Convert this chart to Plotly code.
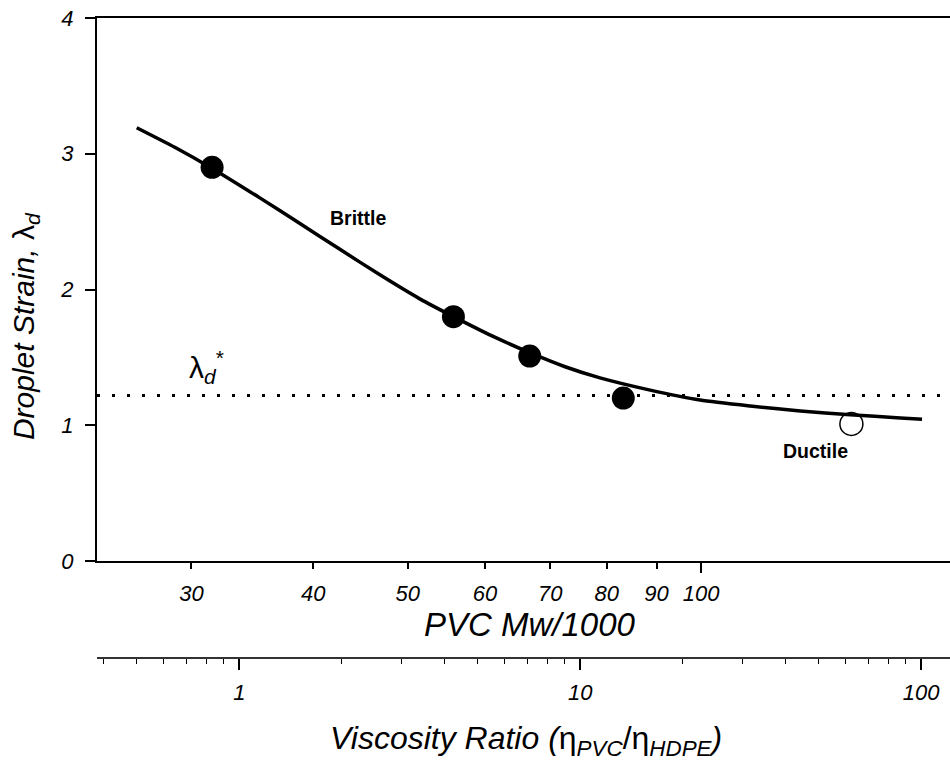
import numpy as np
import plotly.graph_objects as go

FONT = "Liberation Sans, Arial, sans-serif"

# Measured droplet strain for the brittle blends (filled) and the ductile blend (open)
mw_brittle = [31.5, 55.7, 66.7, 83.2]
strain_brittle = [2.90, 1.80, 1.51, 1.20]
mw_ductile = [142.6]
strain_ductile = [1.01]

# Smooth trend through the strain data
mw_fit = [26.36, 28.84, 31.47, 35.26, 38.76, 42.60, 46.82, 51.45, 55.64, 61.02,
          66.91, 72.51, 78.75, 88.65, 99.76, 112.3, 126.4, 142.2, 160.1, 168.5]
strain_fit = [3.192, 3.048, 2.894, 2.675, 2.486, 2.296, 2.108, 1.931, 1.802, 1.658,
              1.531, 1.431, 1.349, 1.259, 1.186, 1.142, 1.105, 1.077, 1.054, 1.044]

# Critical droplet strain
lambda_crit = 1.22

# Axis ranges and ticks
mw_range = [24.0, 180.0]
mw_ticks = [30, 40, 50, 60, 70, 80, 90, 100]
strain_ticks = [0, 1, 2, 3, 4]
visc_range = [0.3825, 121.6]
visc_major = [1, 10, 100]
visc_minor = [0.4, 0.5, 0.6, 0.7, 0.8, 0.9,
              2, 3, 4, 5, 6, 7, 8, 9,
              20, 30, 40, 50, 60, 70, 80, 90]

fig = go.Figure()

# critical strain reference line
fig.add_trace(go.Scatter(
    x=mw_range, y=[lambda_crit, lambda_crit], mode="lines",
    line=dict(color="black", width=3, dash="3px,12px"),
    hoverinfo="skip", showlegend=False))

# ductile point (open circle)
fig.add_trace(go.Scatter(
    x=mw_ductile, y=strain_ductile, mode="markers",
    marker=dict(size=23, color="white", line=dict(color="black", width=1.5)),
    showlegend=False))

# fitted curve
fig.add_trace(go.Scatter(
    x=mw_fit, y=strain_fit, mode="lines",
    line=dict(color="black", width=3.5, shape="spline", smoothing=0.6),
    hoverinfo="skip", showlegend=False))

# brittle points (filled circles)
fig.add_trace(go.Scatter(
    x=mw_brittle, y=strain_brittle, mode="markers",
    marker=dict(size=23, color="black"),
    showlegend=False))

# empty traces so the secondary x axes get drawn
fig.add_trace(go.Scatter(x=visc_range, y=[None, None], xaxis="x2", yaxis="y",
                         mode="lines", hoverinfo="skip", showlegend=False))
fig.add_trace(go.Scatter(x=mw_range, y=[None, None], xaxis="x3", yaxis="y",
                         mode="lines", hoverinfo="skip", showlegend=False))

tick_font = dict(family=FONT, size=22, color="black", style="italic")

fig.update_layout(
    width=950, height=764,
    margin=dict(l=97, r=0, t=18, b=0),
    paper_bgcolor="white", plot_bgcolor="white",
    showlegend=False,
    xaxis=dict(
        type="log", range=[np.log10(mw_range[0]), np.log10(mw_range[1])],
        tickvals=mw_ticks, ticktext=[str(v) for v in mw_ticks],
        ticks="outside", ticklen=6, tickwidth=1.5, tickcolor="black",
        showline=True, linecolor="black", linewidth=2, mirror=True,
        showgrid=False, zeroline=False, anchor="y", automargin=False,
        tickfont=tick_font, ticklabelstandoff=6,
    ),
    xaxis3=dict(
        type="log", range=[np.log10(mw_range[0]), np.log10(mw_range[1])],
        overlaying="x", anchor="y", side="bottom", automargin=False,
        tickvals=[100], ticktext=[""], ticks="outside", ticklen=11, tickwidth=1.5,
        tickcolor="black", showticklabels=False, showline=False,
        showgrid=False, zeroline=False,
    ),
    xaxis2=dict(
        type="log", range=[np.log10(visc_range[0]), np.log10(visc_range[1])],
        overlaying="x", anchor="free", position=0.1421, side="bottom",
        automargin=False,
        tickvals=visc_major, ticktext=[str(v) for v in visc_major],
        ticks="outside", ticklen=11, tickwidth=1.5, tickcolor="black",
        minor=dict(tickvals=visc_minor, ticks="outside", ticklen=5,
                   tickwidth=1.2, tickcolor="black"),
        showline=True, linecolor="#333333", linewidth=1.5,
        showgrid=False, zeroline=False,
        tickfont=tick_font, ticklabelstandoff=4,
    ),
    yaxis=dict(
        domain=[0.2721, 1.0], range=[0, 4], automargin=False,
        tickvals=strain_ticks, ticktext=[str(v) for v in strain_ticks],
        ticks="outside", ticklen=10, tickwidth=1.5, tickcolor="black",
        showline=True, linecolor="black", linewidth=2,
        showgrid=False, zeroline=False,
        tickfont=tick_font, ticklabelstandoff=7,
    ),
)

annotations = [
    # axis titles
    dict(text="<i>PVC Mw/1000</i>", xref="paper", yref="paper",
         x=0.5076, y=0.1875, xanchor="center", yanchor="middle",
         showarrow=False, font=dict(family=FONT, size=33, color="black")),
    dict(text="<i>Viscosity Ratio (</i>η<sub><i>PVC</i></sub>/η<sub><i>HDPE</i></sub><i>)</i>",
         xref="paper", yref="paper", x=0.503, y=0.0319,
         xanchor="center", yanchor="middle", showarrow=False,
         font=dict(family=FONT, size=32, color="black")),
    dict(text="<i>Droplet Strain, </i>λ<sub><i>d</i></sub>", xref="paper", yref="paper",
         x=-0.0844, y=0.587, xanchor="center", yanchor="middle", textangle=-90,
         showarrow=False, font=dict(family=FONT, size=30, color="black")),
    # region labels
    dict(text="<b>Brittle</b>", xref="x", yref="y", x=np.log10(44.45), y=2.525,
         showarrow=False, font=dict(family=FONT, size=19.5, color="black")),
    dict(text="<b>Ductile</b>", xref="x", yref="y", x=np.log10(130.9), y=0.814,
         showarrow=False, font=dict(family=FONT, size=19.5, color="black")),
    # critical strain label
    dict(text="λ<sub><i>d</i></sub><sup>*</sup>", xref="x", yref="y",
         x=np.log10(31.1), y=1.43, showarrow=False,
         font=dict(family=FONT, size=30, color="black")),
]
fig.update_layout(annotations=annotations)

fig.write_html("out.html")
